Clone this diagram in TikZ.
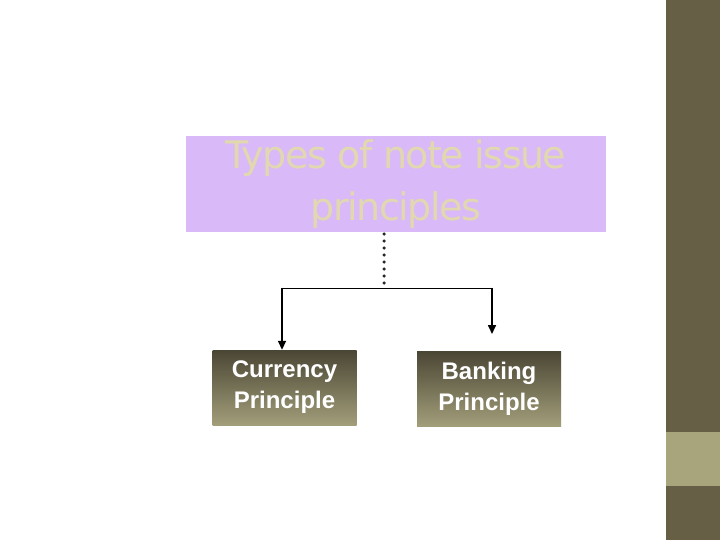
\documentclass[tikz,border=0pt]{standalone}
\usepackage{fontspec}
\setmainfont{Liberation Sans}
\newfontfamily\titlefont{DejaVu Sans}
\usetikzlibrary{arrows.meta}
\definecolor{lil}{HTML}{D9B9F7}
\definecolor{tan}{HTML}{E2D8B0}
\definecolor{side}{HTML}{665E45}
\definecolor{sidel}{HTML}{A8A47C}
\definecolor{gtop}{HTML}{4A4634}
\definecolor{gbot}{HTML}{A29E7A}
\tikzset{leaf/.style={minimum width=144pt,minimum height=75pt,top color=gtop,bottom color=gbot,text=white,font=\bfseries\fontsize{24}{31}\selectfont,align=center,inner sep=0pt},
arr/.style={line width=1.6pt,-{Triangle[length=9pt,width=8pt]}}}
\begin{document}
\begin{tikzpicture}[x=1pt,y=-1pt]
\useasboundingbox (0,0) rectangle (720,540);
\fill[white] (0,0) rectangle (720,540);
\fill[side] (666,0) rectangle (720,540);
\fill[sidel] (666,432) rectangle (720,486);
\node[fill=lil,minimum width=420pt,minimum height=96pt,inner sep=0pt,text=tan,align=center,font=\titlefont\fontsize{38}{52}\selectfont\addfontfeature{LetterSpace=-4}] (t) at (396,184) {Types of note issue\\principles};
\node[leaf] (c) at (284.5,387.5) {Currency\\Principle};
\node[leaf] (b) at (489,388.5) {Banking\\Principle};
\coordinate (j) at (384,288);
\draw[line width=3.5pt,dash pattern=on 0pt off 7pt,line cap=round,black!85] (384,234) -- (j);
\draw[line width=1pt] (282,288) -- (492,288);
\draw[arr] (282,287.5) -- (c.north -| 282,0);
\draw[arr] (492,287.5) -- (492,334);
\end{tikzpicture}
\end{document}
